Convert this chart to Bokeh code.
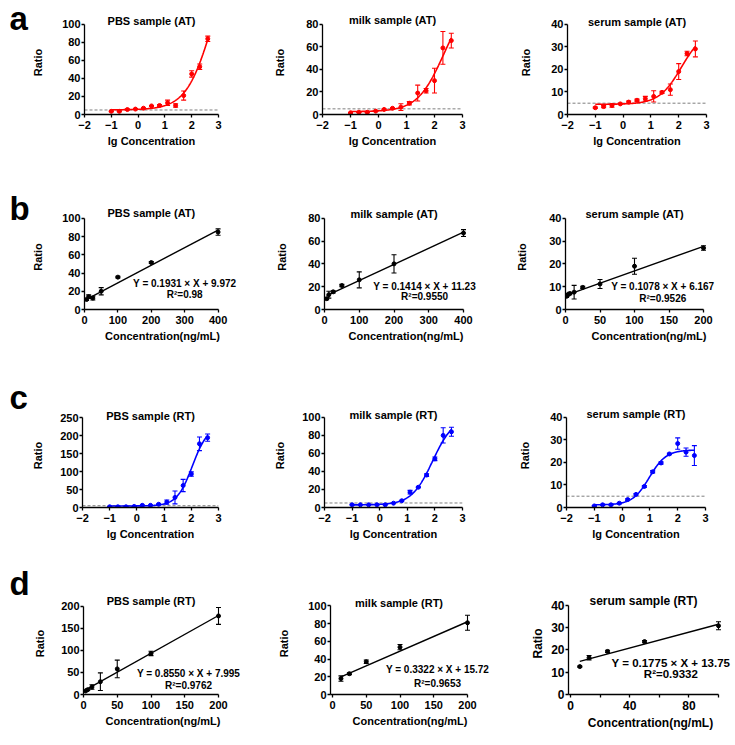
import numpy as np
from bokeh.plotting import figure
from bokeh.models import ColumnDataSource, Whisker, TeeHead, Label, FixedTicker, Range1d, Spacer
from bokeh.layouts import column, row
from bokeh.embed import file_html
from bokeh.resources import INLINE

FONT = "Liberation Sans"

# ---------------- data ----------------
lg_conc = [-1.0, -0.7, -0.4, -0.1, 0.2, 0.5, 0.8, 1.1, 1.4, 1.7, 2.0, 2.3, 2.6]

a_pbs_y = [3.5, 3.5, 5.5, 6, 7, 9.5, 10, 13, 10, 21, 45, 53, 84]
a_pbs_err = [0.5, 0.5, 0.5, 0.5, 0.5, 0.5, 1, 3, 2, 5, 3.5, 3, 3]
a_milk_y = [1.5, 2, 2, 3, 4.5, 5.5, 6.5, 10, 19, 21, 30, 59, 65.5]
a_milk_err = [0.3, 0.3, 0.3, 0.3, 0.5, 0.5, 3, 1.5, 7, 2, 11, 14.5, 6.5]
a_serum_y = [3, 3.5, 4, 4.7, 5.5, 6.3, 7, 8, 9.8, 11, 19, 27, 29]
a_serum_err = [0.3, 0.5, 0.8, 0.3, 0.5, 0.5, 1, 2.5, 0.5, 2.5, 3.5, 1, 3.5]

c_pbs_y = [2, 2, 2, 3, 6, 6, 9, 15, 28, 61, 93, 177, 194]
c_pbs_err = [0.5, 0.5, 0.5, 0.5, 1, 1, 1, 6, 18, 17, 6, 19, 10]
c_milk_y = [3, 3, 3, 3, 3, 4.8, 7.5, 17, 22.5, 36, 54, 80, 84]
c_milk_err = [0.5, 0.3, 0.3, 0.3, 0.3, 0.3, 0.5, 2, 0.5, 1.5, 2, 8.5, 5]
c_serum_y = [0.7, 1.2, 1.2, 1.9, 3.5, 5.8, 9.3, 15.8, 19.7, 23.7, 28.3, 24.5, 23]
c_serum_err = [0.2, 0.2, 0.2, 0.3, 0.4, 0.4, 0.4, 0.5, 0.5, 0.3, 2.5, 1.8, 4.4]

b_pbs_x = [6.25, 12.5, 25, 50, 100, 200, 400]
b_pbs_y = [11, 14, 12.5, 20, 35.5, 51.5, 85]
b_pbs_err = [1, 2, 2, 4, 1, 1, 3.5]
b_milk_x = [6.25, 12.5, 25, 50, 100, 200, 400]
b_milk_y = [9.5, 13, 15.5, 21, 26, 40, 67]
b_milk_err = [1, 3, 1, 1, 7, 8, 3]
b_serum_x = [1.5625, 3.125, 6.25, 12.5, 25, 50, 100, 200]
b_serum_y = [5.8, 6.5, 7, 7.6, 9.7, 11.2, 19, 27]
b_serum_err = [0.5, 0.5, 0.5, 3, 0.5, 2, 3.5, 1]

d_pbs_x = [3.125, 6.25, 12.5, 25, 50, 100, 200]
d_pbs_y = [8, 11, 17, 29, 58, 93, 178]
d_pbs_err = [1, 2, 5, 20, 20, 5, 19]
d_milk_x = [12.5, 25, 50, 100, 200]
d_milk_y = [18, 23.5, 37, 53.5, 81]
d_milk_err = [3, 1, 2, 3, 8.5]
d_serum_x = [6.25, 12.5, 25, 50, 100]
d_serum_y = [12.5, 16.5, 19.3, 23.7, 30.8]
d_serum_err = [0.3, 1, 0.5, 0.5, 1.8]

# linear fit equations shown in the figure
b_slopes = [0.1931, 0.1414, 0.1078]
b_intercepts = [9.972, 11.23, 6.167]
b_eq_text = ["Y = 0.1931 × X + 9.972", "Y = 0.1414 × X + 11.23", "Y = 0.1078 × X + 6.167"]
b_r2_text = ["R²=0.98", "R²=0.9550", "R²=0.9526"]
d_slopes = [0.8550, 0.3322, 0.1775]
d_intercepts = [7.995, 15.72, 13.75]
d_eq_text = ["Y = 0.8550 × X + 7.995", "Y = 0.3322 × X + 15.72", "Y = 0.1775 × X + 13.75"]
d_r2_text = ["R²=0.9762", "R²=0.9653", "R²=0.9332"]

titles_a = ["PBS sample (AT)", "milk sample (AT)", "serum sample (AT)"]
titles_b = ["PBS sample (AT)", "milk sample (AT)", "serum sample (AT)"]
titles_c = ["PBS sample (RT)", "milk sample (RT)", "serum sample (RT)"]
titles_d = ["PBS sample (RT)", "milk sample (RT)", "serum sample (RT)"]
panel_letters = ["a", "b", "c", "d"]
cutoff = 5
lg_ticks = [-2, -1, 0, 1, 2, 3]


# ---------------- helpers ----------------
def fit_4pl(x, y):
    x = np.asarray(x, float)
    y = np.asarray(y, float)
    ec = np.linspace(-1.0, 6.0, 351)[:, None, None]
    hill = np.linspace(0.2, 3.0, 141)[None, :, None]
    f = 1.0 / (1.0 + 10.0 ** ((ec - x[None, None, :]) * hill))
    fm = f.mean(-1, keepdims=True)
    ym = y.mean()
    cov = ((f - fm) * (y - ym)).sum(-1)
    var = ((f - fm) ** 2).sum(-1) + 1e-300
    slope = cov / var
    inter = ym - slope * fm[..., 0]
    pred = inter[..., None] + slope[..., None] * f
    sse = ((pred - y) ** 2).sum(-1)
    i, j = np.unravel_index(np.argmin(sse), sse.shape)
    e, h, b, s = ec[i, 0, 0], hill[0, j, 0], inter[i, j], slope[i, j]
    xs = np.linspace(min(x), max(x), 200)
    ys = b + s / (1.0 + 10.0 ** ((e - xs) * h))
    return xs, ys


COLS = [(29, 245), (245, 490), (490, 735)]
ROWS = [(0, 160), (160, 355), (355, 548), (548, 745)]
EXT_T = 14
LETTER_W, LETTER_H = 29, 50


def base_fig(col, band, box, ext_r, xr, yr, fs=11):
    c0, c1 = col
    r0, r1 = band
    L, R, T, B = box
    xe = xr[1] + ext_r * (xr[1] - xr[0]) / (R - L)
    ye = yr[1] + EXT_T * (yr[1] - yr[0]) / (B - T)
    p = figure(width=c1 - c0, height=r1 - r0, title=None,
               x_range=Range1d(xr[0], xe), y_range=Range1d(yr[0], ye),
               output_backend="svg", toolbar_location=None,
               min_border_left=L - c0, min_border_right=c1 - (R + ext_r),
               min_border_top=T - EXT_T - r0, min_border_bottom=r1 - B)
    p.outline_line_color = None
    p.grid.visible = False
    p.background_fill_color = "white"
    p.border_fill_color = "white"
    for ax in (p.xaxis[0], p.yaxis[0]):
        ax.axis_line_color = "black"
        ax.axis_line_width = 1.3
        ax.major_tick_line_color = "black"
        ax.major_tick_line_width = 1.3
        ax.major_tick_in = 0
        ax.major_tick_out = 3
        ax.minor_tick_line_color = None
        ax.major_label_text_font = FONT
        ax.major_label_text_font_style = "bold"
        ax.major_label_text_font_size = f"{fs}px"
        ax.major_label_text_color = "black"
        ax.axis_label_text_font = FONT
        ax.axis_label_text_font_style = "bold"
        ax.axis_label_text_font_size = f"{fs}px"
        ax.axis_label_text_color = "black"
    p.xaxis.bounds = (xr[0], xr[1])
    p.yaxis.bounds = (yr[0], yr[1])
    p.xaxis.major_label_standoff = 3
    p.xaxis.axis_label_standoff = 3
    p.yaxis.major_label_standoff = 1
    p.yaxis.axis_label = "Ratio"
    return p


def add_points(p, x, y, err, color):
    up = [a + e for a, e in zip(y, err)]
    lo = [a - e for a, e in zip(y, err)]
    src = ColumnDataSource(dict(x=x, y=y, upper=up, lower=lo))
    w = Whisker(source=src, base="x", upper="upper", lower="lower", dimension="height",
                line_color=color, line_width=1.1,
                upper_head=TeeHead(size=5, line_color=color, line_width=1.1),
                lower_head=TeeHead(size=5, line_color=color, line_width=1.1))
    p.add_layout(w)
    p.scatter("x", "y", source=src, size=4, color=color, marker="circle")


def add_title(p, text, xr, yr, off, fs=11):
    p.add_layout(Label(x=(xr[0] + xr[1]) / 2, y=yr[1], text=text, text_align="center",
                       text_baseline="middle", y_offset=off, text_font=FONT,
                       text_font_style="bold", text_font_size=f"{fs}px", text_color="black"))


def letter_col(text, band, anchor):
    # small figure holding the panel letter (vertically centred on `anchor`)
    r0, r1 = band
    gap = max(0, anchor - r0 - LETTER_H // 2)
    p = figure(width=LETTER_W, height=LETTER_H, title=None,
               x_range=Range1d(0, LETTER_W), y_range=Range1d(0, LETTER_H),
               output_backend="svg", toolbar_location=None,
               x_axis_location=None, y_axis_location=None,
               min_border=0, min_border_left=0, min_border_right=0,
               min_border_top=0, min_border_bottom=0)
    p.outline_line_color = None
    p.grid.visible = False
    p.add_layout(Label(x=9, y=LETTER_H - (anchor - r0 - gap), text=text, text_align="left",
                       text_baseline="middle", text_font=FONT, text_font_style="bold",
                       text_font_size="33px", text_color="black"))
    items = []
    if gap > 0:
        items.append(Spacer(width=LETTER_W, height=gap))
    items.append(p)
    rest = (r1 - r0) - gap - LETTER_H
    if rest > 0:
        items.append(Spacer(width=LETTER_W, height=rest))
    return column(*items)


def curve_panel(ci, ri, box, yr, yticks, y, err, color, title, toff, label_std):
    xr = (lg_ticks[0], lg_ticks[-1])
    p = base_fig(COLS[ci], ROWS[ri], box, 0, xr, yr)
    p.xaxis.ticker = FixedTicker(ticks=lg_ticks)
    p.xaxis.major_label_overrides = {-2: "\u22122", -1: "\u22121"}
    p.yaxis.ticker = FixedTicker(ticks=yticks)
    p.xaxis.axis_label = "lg Concentration"
    p.yaxis.axis_label_standoff = label_std
    p.line([xr[0], xr[1]], [cutoff, cutoff], line_color="#7f7f7f",
           line_dash="3 2", line_width=1)
    xs, ys = fit_4pl(lg_conc, y)
    p.line(xs, ys, line_color=color, line_width=1.6)
    add_points(p, lg_conc, y, err, color)
    add_title(p, title, xr, yr, toff)
    return p


def linear_panel(ci, ri, box, ext_r, xr, xticks, yr, yticks, x, y, err, slope, inter,
                 eq, r2, eq_pos, title, toff, label_std, overrides=None, fs=11, efs=10):
    p = base_fig(COLS[ci], ROWS[ri], box, ext_r, xr, yr, fs)
    p.xaxis.ticker = FixedTicker(ticks=xticks)
    if overrides:
        p.xaxis.major_label_overrides = overrides
    p.yaxis.ticker = FixedTicker(ticks=yticks)
    p.xaxis.axis_label = "Concentration(ng/mL)"
    p.yaxis.axis_label_standoff = label_std
    lx = [min(x), max(x)]
    ly = [slope * v + inter for v in lx]
    p.line(lx, ly, line_color="black", line_width=1.4)
    add_points(p, x, y, err, "black")
    ex, ey1, ey2 = eq_pos
    for t, yy in ((eq, ey1), (r2, ey2)):
        p.add_layout(Label(x=ex, y=yy, text=t, text_align="center", text_baseline="middle",
                           text_font=FONT, text_font_style="bold",
                           text_font_size=f"{efs}px", text_color="black"))
    add_title(p, title, (xr[0], xr[1]), yr, toff, fs)
    return p


# ---- row a ----
a1 = curve_panel(0, 0, (82, 218, 23, 114), (0, 100), [0, 20, 40, 60, 80, 100],
                 a_pbs_y, a_pbs_err, "#ff0000", titles_a[0], 3, 15)
a2 = curve_panel(1, 0, (322, 462, 24, 116), (0, 80), [0, 20, 40, 60, 80],
                 a_milk_y, a_milk_err, "#ff0000", titles_a[1], 4, 17)
a3 = curve_panel(2, 0, (567, 706, 24, 117), (0, 40), [0, 10, 20, 30, 40],
                 a_serum_y, a_serum_err, "#ff0000", titles_a[2], 2, 16)
la = letter_col(panel_letters[0], ROWS[0], 18)

# ---- row b ----
b1 = linear_panel(0, 1, (80, 217, 218, 310), 23, (0, 400), [0, 100, 200, 300, 400],
                  (0, 100), [0, 20, 40, 60, 80, 100], b_pbs_x, b_pbs_y, b_pbs_err,
                  b_slopes[0], b_intercepts[0], b_eq_text[0], b_r2_text[0],
                  (300, 29, 16), titles_b[0], 5, 15)
b2 = linear_panel(1, 1, (324, 463, 217, 310), 24, (0, 400), [0, 100, 200, 300, 400],
                  (0, 80), [0, 20, 40, 60, 80], b_milk_x, b_milk_y, b_milk_err,
                  b_slopes[1], b_intercepts[1], b_eq_text[1], b_r2_text[1],
                  (288, 19.8, 11.2), titles_b[1], 4, 17)
b3 = linear_panel(2, 1, (565, 703, 217, 309), 29, (0, 200), [0, 50, 100, 150, 200],
                  (0, 40), [0, 10, 20, 30, 40], b_serum_x, b_serum_y, b_serum_err,
                  b_slopes[2], b_intercepts[2], b_eq_text[2], b_r2_text[2],
                  (141, 10, 4.8), titles_b[2], 4, 18)
lb = letter_col(panel_letters[1], ROWS[1], 208)

# ---- row c ----
c1 = curve_panel(0, 2, (79, 218, 417, 507), (0, 250), [0, 50, 100, 150, 200, 250],
                 c_pbs_y, c_pbs_err, "#0000ff", titles_c[0], 2, 13)
c2 = curve_panel(1, 2, (324, 462, 417, 508), (0, 100), [0, 20, 40, 60, 80, 100],
                 c_milk_y, c_milk_err, "#0000ff", titles_c[1], 2, 13)
c3 = curve_panel(2, 2, (566, 705, 417, 510), (0, 40), [0, 10, 20, 30, 40],
                 c_serum_y, c_serum_err, "#0000ff", titles_c[2], 3, 16)
lc = letter_col(panel_letters[2], ROWS[2], 397)

# ---- row d ----
d1 = linear_panel(0, 3, (83, 218, 604, 694), 24, (0, 200), [0, 50, 100, 150, 200],
                  (0, 200), [0, 50, 100, 150, 200], d_pbs_x, d_pbs_y, d_pbs_err,
                  d_slopes[0], d_intercepts[0], d_eq_text[0], d_r2_text[0],
                  (155.6, 46.7, 20), titles_d[0], 5, 12)
d2 = linear_panel(1, 3, (330, 467, 603, 695), 22, (-3, 200), [0, 50, 100, 150, 200],
                  (0, 100), [0, 20, 40, 60, 80, 100], d_milk_x, d_milk_y, d_milk_err,
                  d_slopes[1], d_intercepts[1], d_eq_text[1], d_r2_text[1],
                  (155.6, 28.3, 12), titles_d[1], 3, 15)
d3 = linear_panel(2, 3, (568, 718, 606, 704), 14, (-1.4, 100), [0, 20, 40, 60, 80, 100],
                  (0, 40), [0, 10, 20, 30, 40], d_serum_x, d_serum_y, d_serum_err,
                  d_slopes[2], d_intercepts[2], d_eq_text[2], d_r2_text[2],
                  (67.8, 14.3, 9.4), titles_d[2], 4, 3,
                  overrides={20: "", 60: "", 100: ""}, fs=12, efs=11.5)
ld = letter_col(panel_letters[3], ROWS[3], 583)

layout = column(row(la, a1, a2, a3), row(lb, b1, b2, b3),
                row(lc, c1, c2, c3), row(ld, d1, d2, d3))
open("out.html", "w").write(file_html(layout, INLINE))
